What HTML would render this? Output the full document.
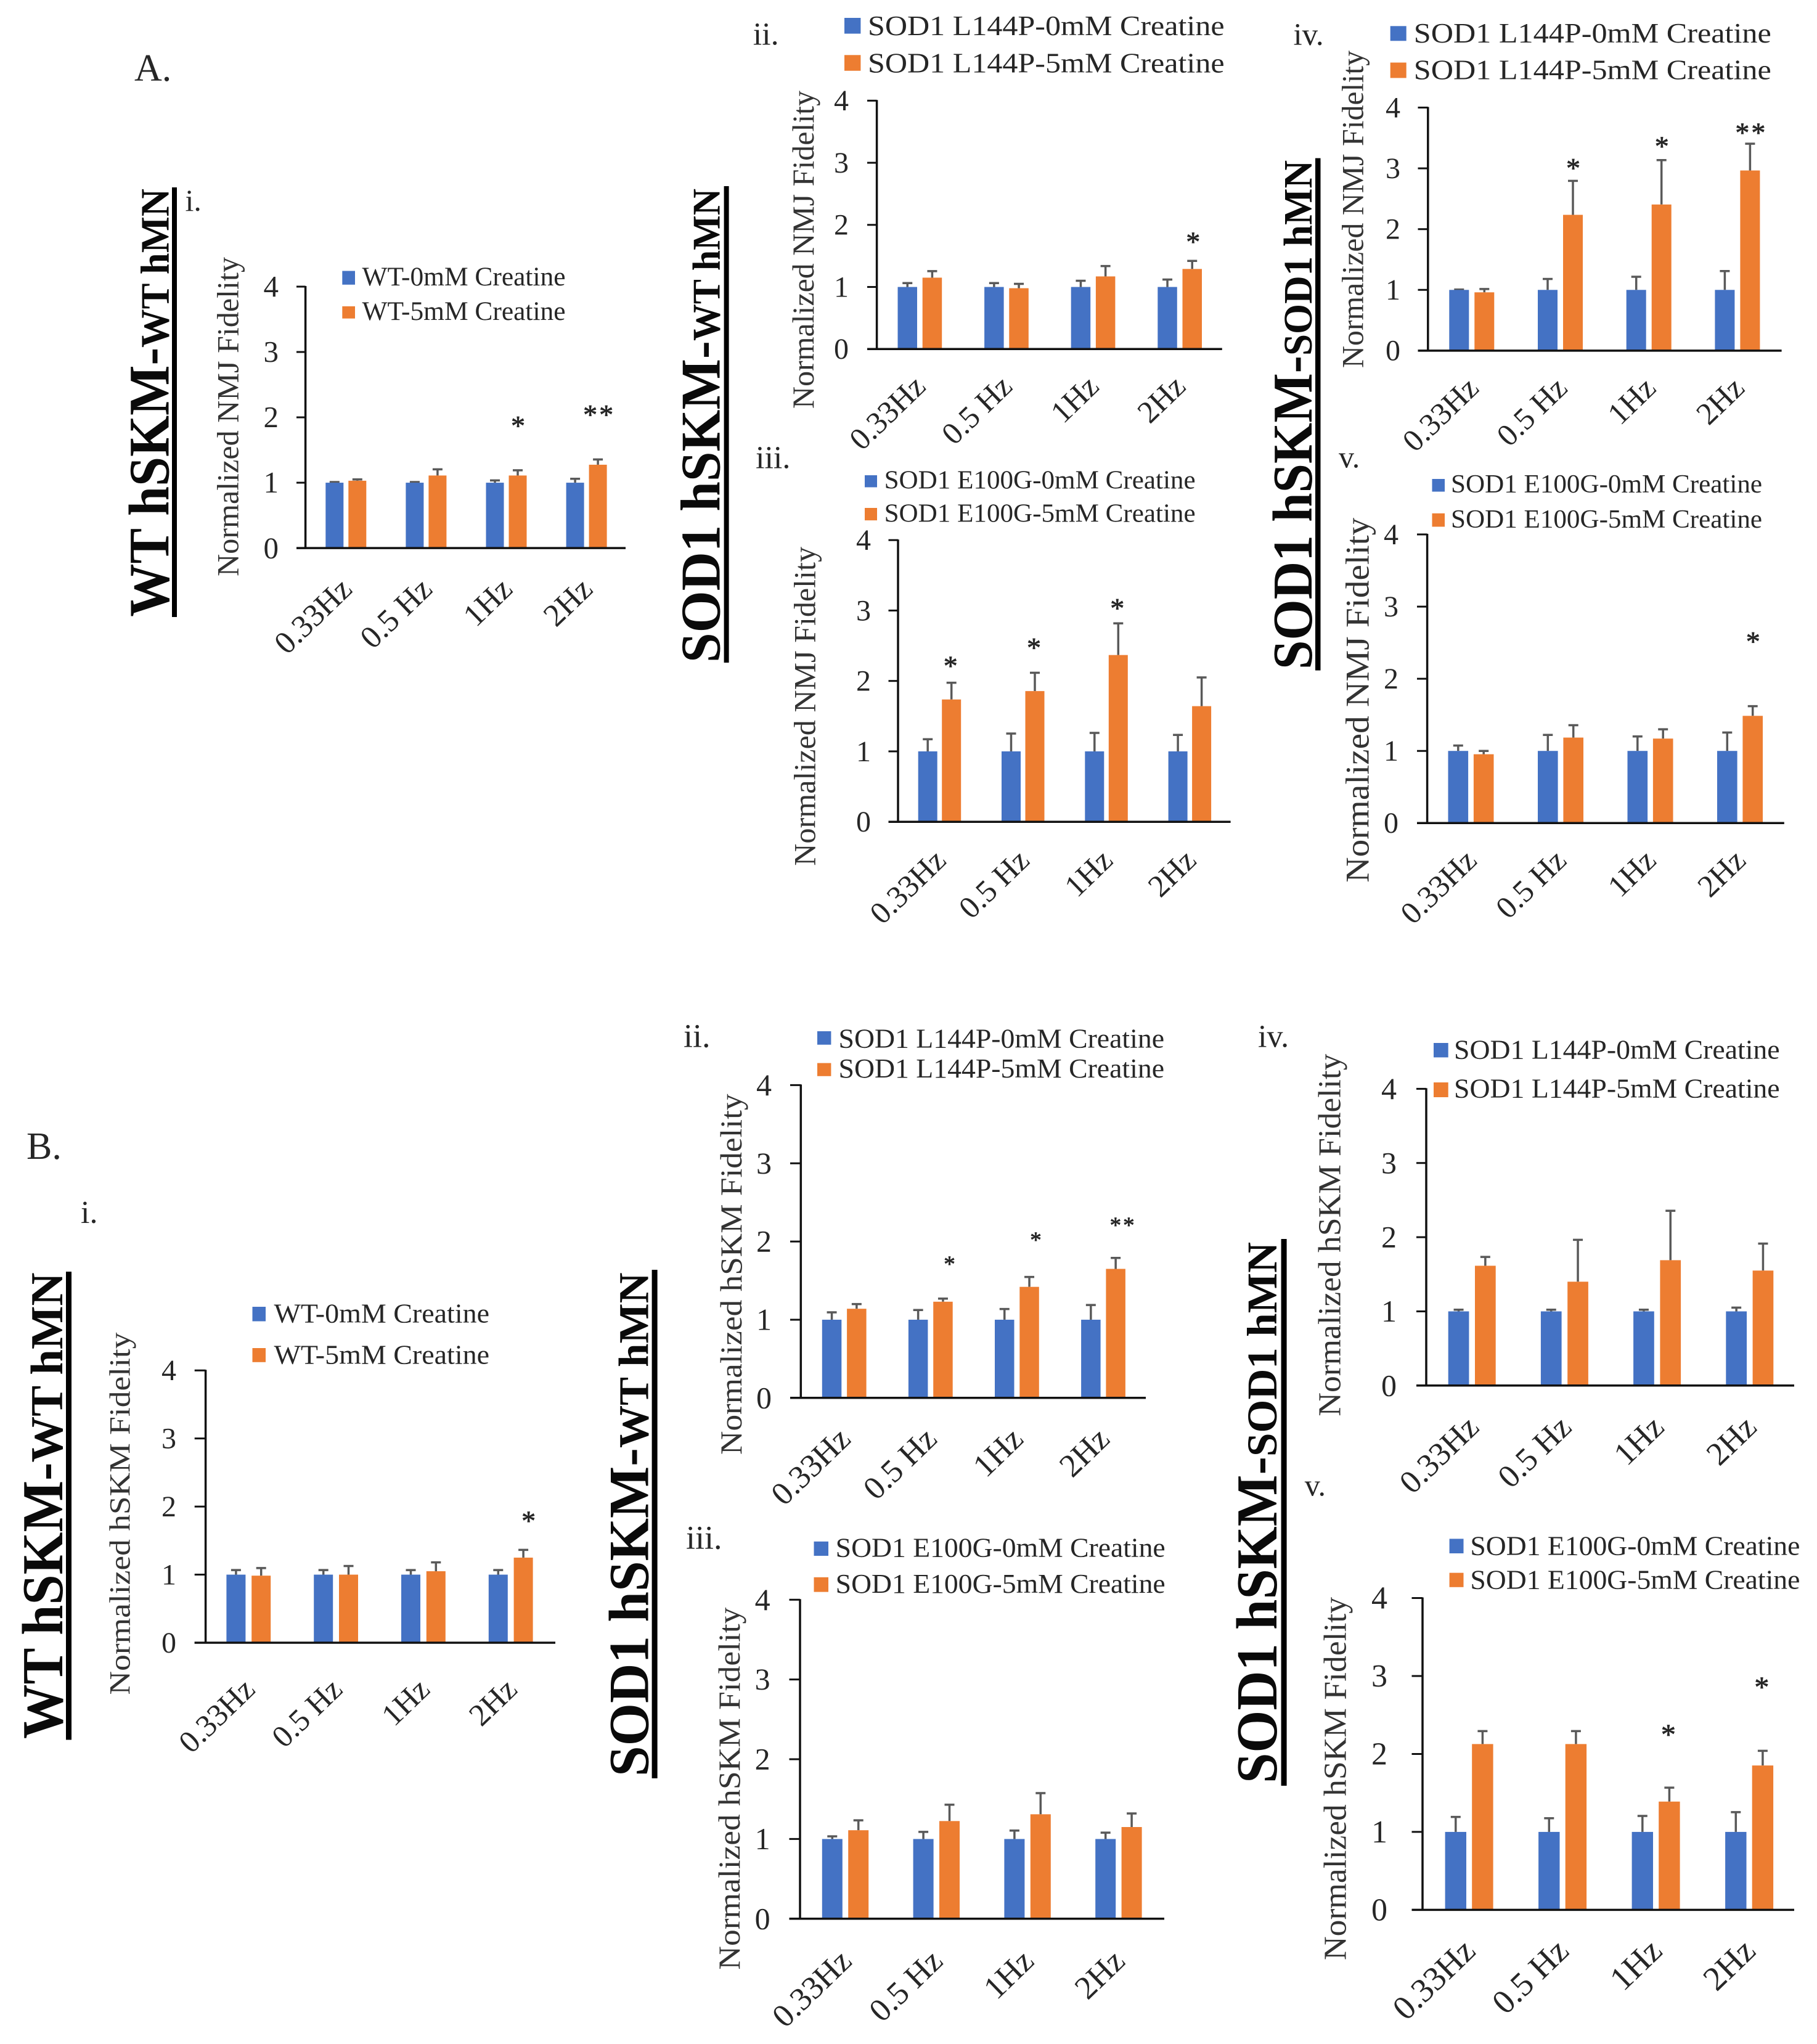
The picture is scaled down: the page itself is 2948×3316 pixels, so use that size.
<!DOCTYPE html>
<html lang="en">
<head>
<meta charset="utf-8">
<title>Normalized NMJ and hSKM Fidelity with Creatine</title>
<style>
html,body{margin:0;padding:0;background:#fff;}
svg{display:block;}
text{font-family:"Liberation Serif",serif;fill:#262626;}
.sect{font-weight:700;fill:#0a0a0a;}
.ttl{fill:#333;}
</style>
</head>
<body>
<svg id="figure" xmlns="http://www.w3.org/2000/svg" width="2948" height="3316" viewBox="0 0 2948 3316">
<rect width="2948" height="3316" fill="#fff"/>

<text x="218" y="131" font-size="62">A.</text>
<text x="43" y="1880" font-size="62">B.</text>

<!-- Section side titles -->
<g>
  <text class="sect" transform="translate(273.5,1000.8) rotate(-90)" font-size="93" textLength="437" lengthAdjust="spacingAndGlyphs">WT hSKM-</text>
  <text class="sect" transform="translate(273.5,564) rotate(-90)" font-size="66" textLength="258" lengthAdjust="spacingAndGlyphs">WT hMN</text>
  <rect x="279" y="304" width="8" height="697" fill="#000"/>
</g>
<g>
  <text class="sect" transform="translate(1167.7,1075) rotate(-90)" font-size="91" textLength="522" lengthAdjust="spacingAndGlyphs">SOD1 hSKM-</text>
  <text class="sect" transform="translate(1167.7,553) rotate(-90)" font-size="64" textLength="247" lengthAdjust="spacingAndGlyphs">WT hMN</text>
  <rect x="1174.6" y="302" width="8" height="773" fill="#000"/>
</g>
<g>
  <text class="sect" transform="translate(2128,1086) rotate(-90)" font-size="91" textLength="509" lengthAdjust="spacingAndGlyphs">SOD1 hSKM-</text>
  <text class="sect" transform="translate(2128,577) rotate(-90)" font-size="66" textLength="317" lengthAdjust="spacingAndGlyphs">SOD1 hMN</text>
  <rect x="2134" y="256.6" width="8.5" height="831" fill="#000"/>
</g>
<g>
  <text class="sect" transform="translate(100.8,2821) rotate(-90)" font-size="94" textLength="448.5" lengthAdjust="spacingAndGlyphs">WT hSKM-</text>
  <text class="sect" transform="translate(100.8,2372.5) rotate(-90)" font-size="74" textLength="308" lengthAdjust="spacingAndGlyphs">WT hMN</text>
  <rect x="107" y="2063" width="9" height="759.5" fill="#000"/>
</g>
<g>
  <text class="sect" transform="translate(1051.5,2882) rotate(-90)" font-size="92" textLength="533" lengthAdjust="spacingAndGlyphs">SOD1 hSKM-</text>
  <text class="sect" transform="translate(1051.5,2349) rotate(-90)" font-size="69" textLength="284.5" lengthAdjust="spacingAndGlyphs">WT hMN</text>
  <rect x="1057.6" y="2060" width="9" height="825" fill="#000"/>
</g>
<g>
  <text class="sect" transform="translate(2071,2893) rotate(-90)" font-size="94" textLength="530" lengthAdjust="spacingAndGlyphs">SOD1 hSKM-</text>
  <text class="sect" transform="translate(2071,2363) rotate(-90)" font-size="69" textLength="348" lengthAdjust="spacingAndGlyphs">SOD1 hMN</text>
  <rect x="2078.6" y="2010" width="9" height="887" fill="#000"/>
</g>

<!-- Panel A i -->
<g id="chart-a-i">
  <text x="300.5" y="342" font-size="50">i.</text>
  <text class="ttl" transform="translate(386.5,935) rotate(-90)" font-size="50" textLength="518" lengthAdjust="spacingAndGlyphs">Normalized NMJ Fidelity</text>
  <rect x="555.3" y="439.5" width="20.7" height="22.3" fill="#4472C4"/>
  <rect x="555.3" y="496.9" width="20.7" height="19.8" fill="#ED7D31"/>
  <text x="587.5" y="463" font-size="43" textLength="330" lengthAdjust="spacingAndGlyphs">WT-0mM Creatine</text>
  <text x="587.5" y="519.2" font-size="43" textLength="330" lengthAdjust="spacingAndGlyphs">WT-5mM Creatine</text>
</g>
<!-- Panel A ii -->
<g id="chart-a-ii">
  <text x="1221.7" y="72.4" font-size="52">ii.</text>
  <text class="ttl" transform="translate(1320,663) rotate(-90)" font-size="50" textLength="516" lengthAdjust="spacingAndGlyphs">Normalized NMJ Fidelity</text>
  <rect x="1370" y="29" width="26.4" height="25.6" fill="#4472C4"/>
  <rect x="1370" y="89.3" width="26.4" height="25.5" fill="#ED7D31"/>
  <text x="1408" y="57" font-size="46" textLength="578.6" lengthAdjust="spacingAndGlyphs">SOD1 L144P-0mM Creatine</text>
  <text x="1408" y="117.3" font-size="46" textLength="578.6" lengthAdjust="spacingAndGlyphs">SOD1 L144P-5mM Creatine</text>
</g>
<!-- Panel A iii -->
<g id="chart-a-iii">
  <text x="1226" y="759.6" font-size="52">iii.</text>
  <text class="ttl" transform="translate(1322.7,1404.7) rotate(-90)" font-size="50" textLength="517.7" lengthAdjust="spacingAndGlyphs">Normalized NMJ Fidelity</text>
  <rect x="1403" y="771" width="20" height="19.5" fill="#4472C4"/>
  <rect x="1403" y="824" width="20" height="20.2" fill="#ED7D31"/>
  <text x="1434.6" y="792.7" font-size="42" textLength="505" lengthAdjust="spacingAndGlyphs">SOD1 E100G-0mM Creatine</text>
  <text x="1434.6" y="846.4" font-size="42" textLength="505" lengthAdjust="spacingAndGlyphs">SOD1 E100G-5mM Creatine</text>
</g>
<!-- Panel A iv -->
<g id="chart-a-iv">
  <text x="2098.5" y="73" font-size="51">iv.</text>
  <text class="ttl" transform="translate(2211.6,597) rotate(-90)" font-size="50" textLength="515" lengthAdjust="spacingAndGlyphs">Normalized NMJ Fidelity</text>
  <rect x="2255.7" y="42.3" width="26" height="24" fill="#4472C4"/>
  <rect x="2255.7" y="101.5" width="26" height="25" fill="#ED7D31"/>
  <text x="2293.8" y="68.9" font-size="46" textLength="580" lengthAdjust="spacingAndGlyphs">SOD1 L144P-0mM Creatine</text>
  <text x="2293.8" y="128.6" font-size="46" textLength="580" lengthAdjust="spacingAndGlyphs">SOD1 L144P-5mM Creatine</text>
</g>
<!-- Panel A v -->
<g id="chart-a-v">
  <text x="2172" y="758.5" font-size="50">v.</text>
  <text class="ttl" transform="translate(2220.7,1431.8) rotate(-90)" font-size="54" textLength="592" lengthAdjust="spacingAndGlyphs">Normalized NMJ Fidelity</text>
  <rect x="2323.5" y="777" width="20.5" height="20.6" fill="#4472C4"/>
  <rect x="2323.5" y="832.8" width="20.5" height="21.7" fill="#ED7D31"/>
  <text x="2354" y="799.2" font-size="42" textLength="505" lengthAdjust="spacingAndGlyphs">SOD1 E100G-0mM Creatine</text>
  <text x="2354" y="856" font-size="42" textLength="505" lengthAdjust="spacingAndGlyphs">SOD1 E100G-5mM Creatine</text>
</g>
<!-- Panel B i -->
<g id="chart-b-i">
  <text x="131" y="1984" font-size="52">i.</text>
  <text class="ttl" transform="translate(210.5,2749.5) rotate(-90)" font-size="48" textLength="588" lengthAdjust="spacingAndGlyphs">Normalized hSKM Fidelity</text>
  <rect x="409.5" y="2120" width="21.5" height="23.5" fill="#4472C4"/>
  <rect x="409.5" y="2187" width="21.5" height="22.8" fill="#ED7D31"/>
  <text x="444.5" y="2145.5" font-size="44" textLength="349.5" lengthAdjust="spacingAndGlyphs">WT-0mM Creatine</text>
  <text x="444.5" y="2212.5" font-size="44" textLength="349.5" lengthAdjust="spacingAndGlyphs">WT-5mM Creatine</text>
</g>
<!-- Panel B ii -->
<g id="chart-b-ii">
  <text x="1109" y="1698.6" font-size="54">ii.</text>
  <text class="ttl" transform="translate(1203,2360) rotate(-90)" font-size="50" textLength="585.5" lengthAdjust="spacingAndGlyphs">Normalized hSKM Fidelity</text>
  <rect x="1326" y="1673" width="22.4" height="21.8" fill="#4472C4"/>
  <rect x="1326" y="1724.6" width="22.4" height="21.2" fill="#ED7D31"/>
  <text x="1360.5" y="1699.7" font-size="44" textLength="528.5" lengthAdjust="spacingAndGlyphs">SOD1 L144P-0mM Creatine</text>
  <text x="1360.5" y="1748" font-size="44" textLength="528.5" lengthAdjust="spacingAndGlyphs">SOD1 L144P-5mM Creatine</text>
</g>
<!-- Panel B iii -->
<g id="chart-b-iii">
  <text x="1113" y="2512.4" font-size="54">iii.</text>
  <text class="ttl" transform="translate(1200,3195.6) rotate(-90)" font-size="50" textLength="588" lengthAdjust="spacingAndGlyphs">Normalized hSKM Fidelity</text>
  <rect x="1320.5" y="2500.8" width="23.5" height="23.2" fill="#4472C4"/>
  <rect x="1320.5" y="2558.8" width="23.5" height="23.8" fill="#ED7D31"/>
  <text x="1355.7" y="2525.7" font-size="44" textLength="535" lengthAdjust="spacingAndGlyphs">SOD1 E100G-0mM Creatine</text>
  <text x="1355.7" y="2584.2" font-size="44" textLength="535" lengthAdjust="spacingAndGlyphs">SOD1 E100G-5mM Creatine</text>
</g>
<!-- Panel B iv -->
<g id="chart-b-iv">
  <text x="2041" y="1698.6" font-size="52">iv.</text>
  <text class="ttl" transform="translate(2174.7,2297.6) rotate(-90)" font-size="52" textLength="588" lengthAdjust="spacingAndGlyphs">Normalized hSKM Fidelity</text>
  <rect x="2326" y="1692" width="23.7" height="23.4" fill="#4472C4"/>
  <rect x="2326" y="1756" width="23.7" height="24" fill="#ED7D31"/>
  <text x="2359" y="1717.6" font-size="44" textLength="528.6" lengthAdjust="spacingAndGlyphs">SOD1 L144P-0mM Creatine</text>
  <text x="2359" y="1780.5" font-size="44" textLength="528.6" lengthAdjust="spacingAndGlyphs">SOD1 L144P-5mM Creatine</text>
</g>
<!-- Panel B v -->
<g id="chart-b-v">
  <text x="2116.8" y="2426.6" font-size="50">v.</text>
  <text class="ttl" transform="translate(2183.6,3180) rotate(-90)" font-size="52" textLength="589" lengthAdjust="spacingAndGlyphs">Normalized hSKM Fidelity</text>
  <rect x="2351.6" y="2496.4" width="22.9" height="23.6" fill="#4472C4"/>
  <rect x="2351.6" y="2551.6" width="22.9" height="23.2" fill="#ED7D31"/>
  <text x="2385.4" y="2522.3" font-size="44" textLength="535" lengthAdjust="spacingAndGlyphs">SOD1 E100G-0mM Creatine</text>
  <text x="2385.4" y="2577.6" font-size="44" textLength="535" lengthAdjust="spacingAndGlyphs">SOD1 E100G-5mM Creatine</text>
</g>

<script>
const categories = ['0.33Hz', '0.5 Hz', '1Hz', '2Hz'];
const yTickLabels = [0, 1, 2, 3, 4];

const aiBase = [1, 1, 1, 1];
const aiBaseErr = [0.01, 0.01, 0.035, 0.06];
const aiTreated = [1.03, 1.11, 1.11, 1.275];
const aiTreatedErr = [0.02, 0.095, 0.08, 0.08];
const aiMarks = ['', '', '*', '**'];
const aiMarkLevels = [0, 0, 1.93, 2.10];

const aiiBase = [1, 1, 1, 1];
const aiiBaseErr = [0.063, 0.063, 0.10, 0.12];
const aiiTreated = [1.15, 0.98, 1.17, 1.29];
const aiiTreatedErr = [0.105, 0.07, 0.167, 0.13];
const aiiMarks = ['', '', '', '*'];
const aiiMarkLevels = [0, 0, 0, 1.79];

const aiiiBase = [1, 1, 1, 1];
const aiiiBaseErr = [0.172, 0.253, 0.262, 0.234];
const aiiiTreated = [1.737, 1.856, 2.368, 1.642];
const aiiiTreatedErr = [0.237, 0.26, 0.45, 0.408];
const aiiiMarks = ['*', '*', '*', ''];
const aiiiMarkLevels = [2.268, 2.53, 3.09, 0];

const aivBase = [1, 1, 1, 1];
const aivBaseErr = [0.005, 0.18, 0.216, 0.31];
const aivTreated = [0.96, 2.235, 2.405, 2.965];
const aivTreatedErr = [0.054, 0.559, 0.731, 0.44];
const aivMarks = ['', '*', '*', '**'];
const aivMarkLevels = [0, 3.07, 3.43, 3.65];

const avBase = [1, 1, 1, 1];
const avBaseErr = [0.074, 0.222, 0.2, 0.255];
const avTreated = [0.954, 1.185, 1.171, 1.486];
const avTreatedErr = [0.046, 0.171, 0.129, 0.134];
const avMarks = ['', '', '', '*'];
const avMarkLevels = [0, 0, 0, 2.57];

const biBase = [1, 1, 1, 1];
const biBaseErr = [0.067, 0.067, 0.067, 0.067];
const biTreated = [0.985, 1.0, 1.05, 1.25];
const biTreatedErr = [0.112, 0.127, 0.13, 0.114];
const biMarks = ['', '', '', '*'];
const biMarkLevels = [0, 0, 0, 1.85];

const biiBase = [1, 1, 1, 1];
const biiBaseErr = [0.094, 0.124, 0.137, 0.188];
const biiTreated = [1.14, 1.23, 1.42, 1.65];
const biiTreatedErr = [0.06, 0.04, 0.127, 0.14];
const biiMarks = ['', '*', '*', '**'];
const biiMarkLevels = [0, 1.75, 2.06, 2.25];

const biiiBase = [1, 1, 1, 1];
const biiiBaseErr = [0.033, 0.089, 0.106, 0.08];
const biiiTreated = [1.11, 1.225, 1.31, 1.15];
const biiiTreatedErr = [0.124, 0.205, 0.265, 0.17];
const biiiMarks = ['', '', '', ''];
const biiiMarkLevels = [0, 0, 0, 0];

const bivBase = [1, 1, 1, 1];
const bivBaseErr = [0.022, 0.022, 0.022, 0.05];
const bivTreated = [1.615, 1.40, 1.69, 1.55];
const bivTreatedErr = [0.119, 0.564, 0.666, 0.364];
const bivMarks = ['', '', '', ''];
const bivMarkLevels = [0, 0, 0, 0];

const bvBase = [1, 1, 1, 1];
const bvBaseErr = [0.192, 0.175, 0.205, 0.253];
const bvTreated = [2.127, 2.127, 1.389, 1.852];
const bvTreatedErr = [0.166, 0.166, 0.179, 0.188];
const bvMarks = ['', '', '*', '*'];
const bvMarkLevels = [0, 0, 2.3, 2.91];

const SVG_NS = 'http://www.w3.org/2000/svg';
const BLUE = '#4472C4';
const ORANGE = '#ED7D31';
const ERR = '#595959';
const AXIS = '#111111';

function make(parent, tag, props, text) {
  const el = document.createElementNS(SVG_NS, tag);
  for (const key in props) el.setAttribute(key, props[key]);
  if (text !== undefined) el.textContent = text;
  parent.appendChild(el);
  return el;
}

function drawChart(frame, base, baseErr, treated, treatedErr, marks, markLevels) {
  const host = document.getElementById(frame.id);
  const yAt = function (v) { return frame.y0 - (frame.y0 - frame.y4) * v / 4; };
  const barLeft = function (cat, series) { return frame.left + cat * frame.step + series * frame.off; };

  [base, treated].forEach(function (values, s) {
    const errs = s === 0 ? baseErr : treatedErr;
    values.forEach(function (v, c) {
      const x = barLeft(c, s);
      const cx = x + frame.bw / 2;
      const top = yAt(v + errs[c]);

      const stem = make(host, 'line', {x1: cx, x2: cx, y1: yAt(v), y2: top, stroke: ERR, 'stroke-width': 3.5});
      
      

      const cap = make(host, 'line', {x1: cx - 8, x2: cx + 8, y1: top, y2: top, stroke: ERR, 'stroke-width': 3.5});
      
      

      const bar = make(host, 'rect', {x: x, y: yAt(v), width: frame.bw, height: frame.y0 - yAt(v), fill: s === 0 ? BLUE : ORANGE});
      
      
    });
  });

  const yAxis = make(host, 'line', {x1: frame.x0, x2: frame.x0, y1: frame.y4 - 1, y2: frame.y0, stroke: AXIS, 'stroke-width': 3.5});
  
  

  const xAxis = make(host, 'line', {x1: frame.tick, x2: frame.xEnd, y1: frame.y0, y2: frame.y0, stroke: AXIS, 'stroke-width': 3.5});
  
  

  yTickLabels.forEach(function (t) {
    const y = yAt(t);

    const tick = make(host, 'line', {x1: frame.tick, x2: frame.x0, y1: y, y2: y, stroke: AXIS, 'stroke-width': 3});
    
    

    const label = make(host, 'text', {x: frame.labelX, y: y + (frame.tickFs + 2) * 0.33, 'font-size': frame.tickFs + 2, 'text-anchor': 'end'}, String(t));
    
    
  });

  categories.forEach(function (name, c) {
    const center = (barLeft(c, 0) + barLeft(c, 1) + frame.bw) / 2;
    const ax = center + frame.catDx;
    const ay = frame.y0 + frame.catDy;
    const label = make(host, 'text', {transform: 'translate(' + ax + ',' + ay + ') rotate(-44)', 'font-size': frame.tickFs * 1.1, 'text-anchor': 'end'}, name);
    
    
  });

  marks.forEach(function (m, c) {
    if (!m) return;
    const cx = barLeft(c, 1) + frame.bw / 2 + frame.markDx;
    const mark = make(host, 'text', {x: cx, y: yAt(markLevels[c]) + frame.markFs * 0.47, 'font-size': frame.markFs, 'text-anchor': 'middle', 'letter-spacing': 3, stroke: '#262626', 'stroke-width': 0.8}, m);
    
    
  });
}

drawChart({id: 'chart-a-i', x0: 495.6, y0: 889.1, y4: 465, xEnd: 1015, tick: 481, left: 528.3, step: 130.1, off: 37, bw: 29, labelX: 452, tickFs: 47, catDx: 12.5, catDy: 70, markDx: 2, markFs: 46}, aiBase, aiBaseErr, aiTreated, aiTreatedErr, aiMarks, aiMarkLevels);
drawChart({id: 'chart-a-ii', x0: 1422.6, y0: 566.3, y4: 163.3, xEnd: 1982.8, tick: 1407, left: 1456.5, step: 140.6, off: 40.2, bw: 31.5, labelX: 1377, tickFs: 46, catDx: 12, catDy: 64, markDx: 3, markFs: 46}, aiiBase, aiiBaseErr, aiiTreated, aiiTreatedErr, aiiMarks, aiiMarkLevels);
drawChart({id: 'chart-a-iii', x0: 1457, y0: 1333.2, y4: 876.2, xEnd: 1996.6, tick: 1441.5, left: 1489.7, step: 135.3, off: 38.5, bw: 31, labelX: 1413, tickFs: 46, catDx: 13, catDy: 66, markDx: 0, markFs: 46}, aiiiBase, aiiiBaseErr, aiiiTreated, aiiiTreatedErr, aiiiMarks, aiiiMarkLevels);
drawChart({id: 'chart-a-iv', x0: 2316.8, y0: 568.9, y4: 174.5, xEnd: 2890.6, tick: 2300.5, left: 2351.3, step: 143.7, off: 41, bw: 32, labelX: 2272, tickFs: 46, catDx: 14, catDy: 64, markDx: 2, markFs: 46}, aivBase, aivBaseErr, aivTreated, aivTreatedErr, aivMarks, aivMarkLevels);
drawChart({id: 'chart-a-v', x0: 2315.6, y0: 1335.3, y4: 867, xEnd: 2894.8, tick: 2299, left: 2349.5, step: 145.5, off: 41.4, bw: 32.6, labelX: 2269, tickFs: 46, catDx: 12, catDy: 64, markDx: 2, markFs: 46}, avBase, avBaseErr, avTreated, avTreatedErr, avMarks, avMarkLevels);
drawChart({id: 'chart-b-i', x0: 333.6, y0: 2665, y4: 2223.2, xEnd: 901, tick: 315.7, left: 367.4, step: 141.8, off: 40.8, bw: 31, labelX: 286, tickFs: 46, catDx: 13, catDy: 79, markDx: 10, markFs: 46}, biBase, biBaseErr, biTreated, biTreatedErr, biMarks, biMarkLevels);
drawChart({id: 'chart-b-ii', x0: 1299.3, y0: 2267.8, y4: 1760.4, xEnd: 1859, tick: 1282, left: 1333.8, step: 140.1, off: 40.3, bw: 31.5, labelX: 1252, tickFs: 48, catDx: 13, catDy: 70, markDx: 12, markFs: 37}, biiBase, biiBaseErr, biiTreated, biiTreatedErr, biiMarks, biiMarkLevels);
drawChart({id: 'chart-b-iii', x0: 1298, y0: 3112.8, y4: 2595.3, xEnd: 1889, tick: 1280.5, left: 1333.8, step: 147.8, off: 42.4, bw: 33, labelX: 1249.6, tickFs: 48, catDx: 13, catDy: 72, markDx: 0, markFs: 46}, biiiBase, biiiBaseErr, biiiTreated, biiiTreatedErr, biiiMarks, biiiMarkLevels);
drawChart({id: 'chart-b-iv', x0: 2314, y0: 2247.8, y4: 1766.4, xEnd: 2911, tick: 2298, left: 2349.7, step: 150.2, off: 43.3, bw: 33.7, labelX: 2266, tickFs: 48, catDx: 14, catDy: 71, markDx: 0, markFs: 46}, bivBase, bivBaseErr, bivTreated, bivTreatedErr, bivMarks, bivMarkLevels);
drawChart({id: 'chart-b-v', x0: 2308, y0: 3098.4, y4: 2592.5, xEnd: 2911, tick: 2290.5, left: 2344.6, step: 151.5, off: 43.6, bw: 34.4, labelX: 2251, tickFs: 50, catDx: 13, catDy: 70, markDx: 0, markFs: 48}, bvBase, bvBaseErr, bvTreated, bvTreatedErr, bvMarks, bvMarkLevels);
</script>
</svg>
</body>
</html>
